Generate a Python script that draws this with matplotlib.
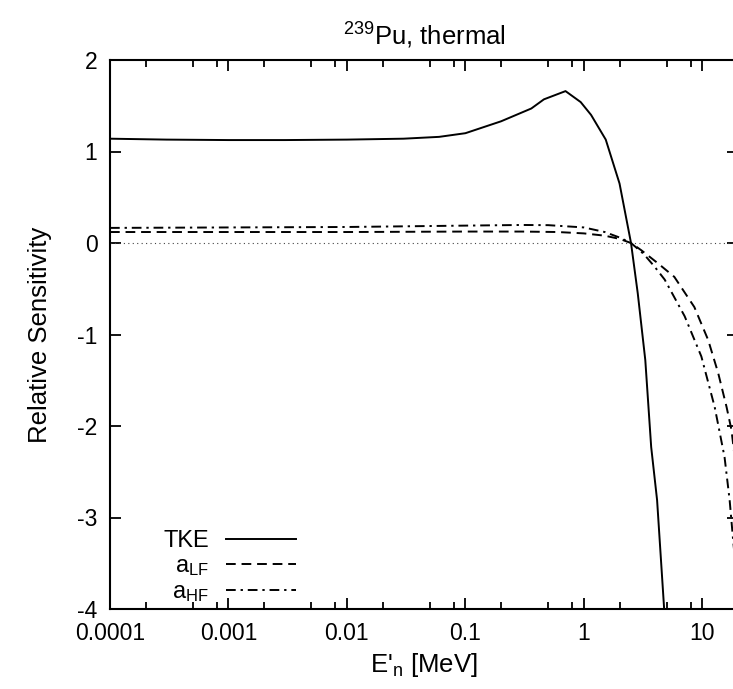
import matplotlib
matplotlib.use("Agg")
import matplotlib.pyplot as plt
from matplotlib.ticker import LogLocator, FixedLocator, NullFormatter

plt.rcParams['font.family'] = ['Liberation Sans', 'DejaVu Sans']
plt.rcParams['mathtext.fontset'] = 'custom'
plt.rcParams['mathtext.rm'] = 'Liberation Sans'
plt.rcParams['mathtext.it'] = 'Liberation Sans'

# TKE sensitivity
e_tke = [1e-4, 3e-4, 1e-3, 3e-3, 0.01, 0.03, 0.06, 0.1, 0.2, 0.36, 0.46,
         0.7, 0.94, 1.15, 1.53, 2.0, 2.5, 2.85, 3.3, 3.7, 4.15, 4.75, 5.0]
tke = [1.14, 1.13, 1.125, 1.125, 1.13, 1.14, 1.16, 1.2, 1.33, 1.47, 1.57,
       1.66, 1.54, 1.40, 1.13, 0.65, 0.0, -0.55, -1.28, -2.23, -2.81, -3.98, -4.5]

# level density parameter, light fragment
e_alf = [1e-4, 1e-3, 0.01, 0.1, 0.3, 0.6, 1.0, 1.5, 2.0, 2.5, 3.06, 4.2,
         5.8, 8.56, 11.2, 13.6, 16.0, 17.6, 18.6, 20]
alf = [0.12, 0.12, 0.12, 0.125, 0.125, 0.12, 0.105, 0.08, 0.045, 0.0, -0.08,
       -0.22, -0.37, -0.70, -1.06, -1.42, -1.79, -2.04, -2.30, -2.6]

# level density parameter, heavy fragment
e_ahf = [1e-4, 1e-3, 0.01, 0.1, 0.3, 0.5, 1.0, 1.5, 2.0, 2.5, 3.2, 3.96,
         4.81, 7.09, 9.81, 12.7, 15.4, 17.0, 18.2, 20]
ahf = [0.165, 0.17, 0.175, 0.19, 0.197, 0.195, 0.17, 0.12, 0.06, 0.0, -0.12,
       -0.26, -0.40, -0.80, -1.24, -1.79, -2.34, -2.81, -3.25, -3.8]

xticks = [1e-4, 1e-3, 1e-2, 1e-1, 1, 10]
xticklabels = ['0.0001', '0.001', '0.01', '0.1', '1', '10']
yticks = [-4, -3, -2, -1, 0, 1, 2]

fig = plt.figure(figsize=(7.33, 6.89), dpi=100)
ax = fig.add_axes([110/733, (689-609)/689, 628/733, 549/689])

ax.axhline(0, color='#444444', lw=0.8, ls=(0, (1, 3)))
ax.plot(e_tke, tke, color='black', lw=1.4, label='TKE')
ax.plot(e_alf, alf, color='black', lw=1.4, ls=(0, (5, 3)), label=r'a$_\mathrm{LF}$')
ax.plot(e_ahf, ahf, color='black', lw=1.4, ls=(0, (5, 2.5, 1.2, 2.5)),
        label=r'a$_\mathrm{HF}$')

ax.set_xscale('log')
ax.set_xlim(1e-4, 20)
ax.set_ylim(-4, 2)
ax.xaxis.set_major_locator(FixedLocator(xticks))
ax.set_xticklabels(xticklabels)
ax.xaxis.set_minor_locator(LogLocator(base=10, subs=(2, 5, 8)))
ax.xaxis.set_minor_formatter(NullFormatter())
ax.set_yticks(yticks)
ax.set_yticklabels([str(v) for v in yticks])

ax.tick_params(which='both', direction='in', top=True, right=True,
               labelsize=16.5, width=1.3)
ax.tick_params(which='major', length=8, pad=9)
ax.tick_params(which='minor', length=5)
for s in ax.spines.values():
    s.set_linewidth(1.5)

ax.set_title(r'$^{239}$Pu, thermal', fontsize=18.5, pad=11)
ax.set_xlabel(r"E'$_\mathrm{n}$ [MeV]", fontsize=18.5, labelpad=5)
ax.set_ylabel('Relative Sensitivity', fontsize=18.5, labelpad=18)

ax.legend(loc='lower left', bbox_to_anchor=(0.066, -0.012), frameon=False,
          markerfirst=False, handlelength=3.0, handletextpad=0.7,
          labelspacing=0.12, fontsize=17, borderpad=0.0)

fig.savefig('out.png', dpi=100)
